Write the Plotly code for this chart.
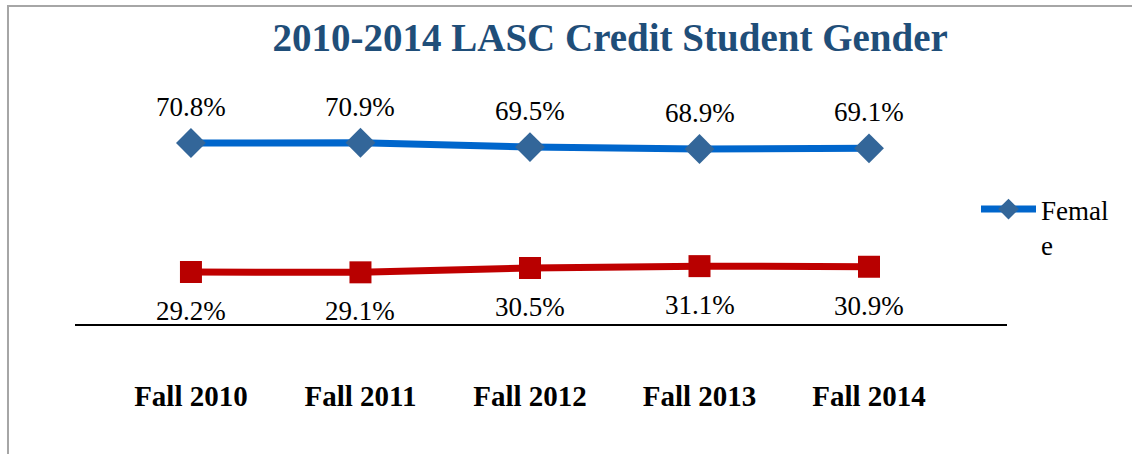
import plotly.graph_objects as go

categories = ["Fall 2010", "Fall 2011", "Fall 2012", "Fall 2013", "Fall 2014"]
female = [70.8, 70.9, 69.5, 68.9, 69.1]
male = [29.2, 29.1, 30.5, 31.1, 30.9]
female_labels = ["70.8%", "70.9%", "69.5%", "68.9%", "69.1%"]
male_labels = ["29.2%", "29.1%", "30.5%", "31.1%", "30.9%"]

SERIF = "Liberation Serif, Times New Roman, serif"

fig = go.Figure()
fig.add_trace(go.Scatter(
    x=categories, y=female, name="Femal<br>e", mode="lines+markers",
    line=dict(color="#0066CC", width=7),
    marker=dict(symbol="diamond", size=23, color="#336699"),
    showlegend=True,
))
fig.add_trace(go.Scatter(
    x=categories, y=male, name="Male", mode="lines+markers",
    line=dict(color="#C00000", width=7),
    marker=dict(symbol="square", size=22, color="#B80000"),
    showlegend=False,
))

annotations = []
for c, v, t in zip(categories, female, female_labels):
    annotations.append(dict(x=c, y=v, text=t, showarrow=False, yshift=36,
                            font=dict(family=SERIF, size=27, color="#000000")))
for c, v, t in zip(categories, male, male_labels):
    annotations.append(dict(x=c, y=v, text=t, showarrow=False, yshift=-39,
                            font=dict(family=SERIF, size=27, color="#000000")))

fig.update_layout(
    width=1132, height=454,
    margin=dict(l=75, r=125, t=60, b=130, autoexpand=False),
    paper_bgcolor="white", plot_bgcolor="white",
    title=dict(text="<b>2010-2014 LASC Credit Student Gender</b>",
               x=0.539, xanchor="center", xref="container",
               y=1 - 37 / 454, yanchor="middle", yref="container",
               font=dict(family=SERIF, size=39, color="#1F4E79")),
    xaxis=dict(type="category", range=[-0.684, 4.814], showgrid=False,
               zeroline=False, showline=True, linecolor="#000000", linewidth=2,
               ticks="", ticklabelstandoff=45,
               tickfont=dict(family=SERIF, size=29, color="#000000", weight="bold")),
    yaxis=dict(range=[12.43, 97.6], visible=False, showgrid=False, zeroline=False),
    legend=dict(x=976 / 1132, xref="container", xanchor="left",
                y=1 - 185 / 454, yref="container", yanchor="top",
                valign="top", bgcolor="rgba(0,0,0,0)", itemwidth=55,
                font=dict(family=SERIF, size=27, color="#000000")),
    annotations=annotations,
    shapes=[dict(type="rect", xref="paper", yref="paper",
                 x0=-0.0719, x1=1.15, y0=-0.53, y1=1.2045,
                 line=dict(color="#A6A6A6", width=2), layer="below")],
)

fig.write_html("out.html", config={"displayModeBar": False},
               post_script="document.body.style.margin='0';document.body.style.overflow='hidden';")
